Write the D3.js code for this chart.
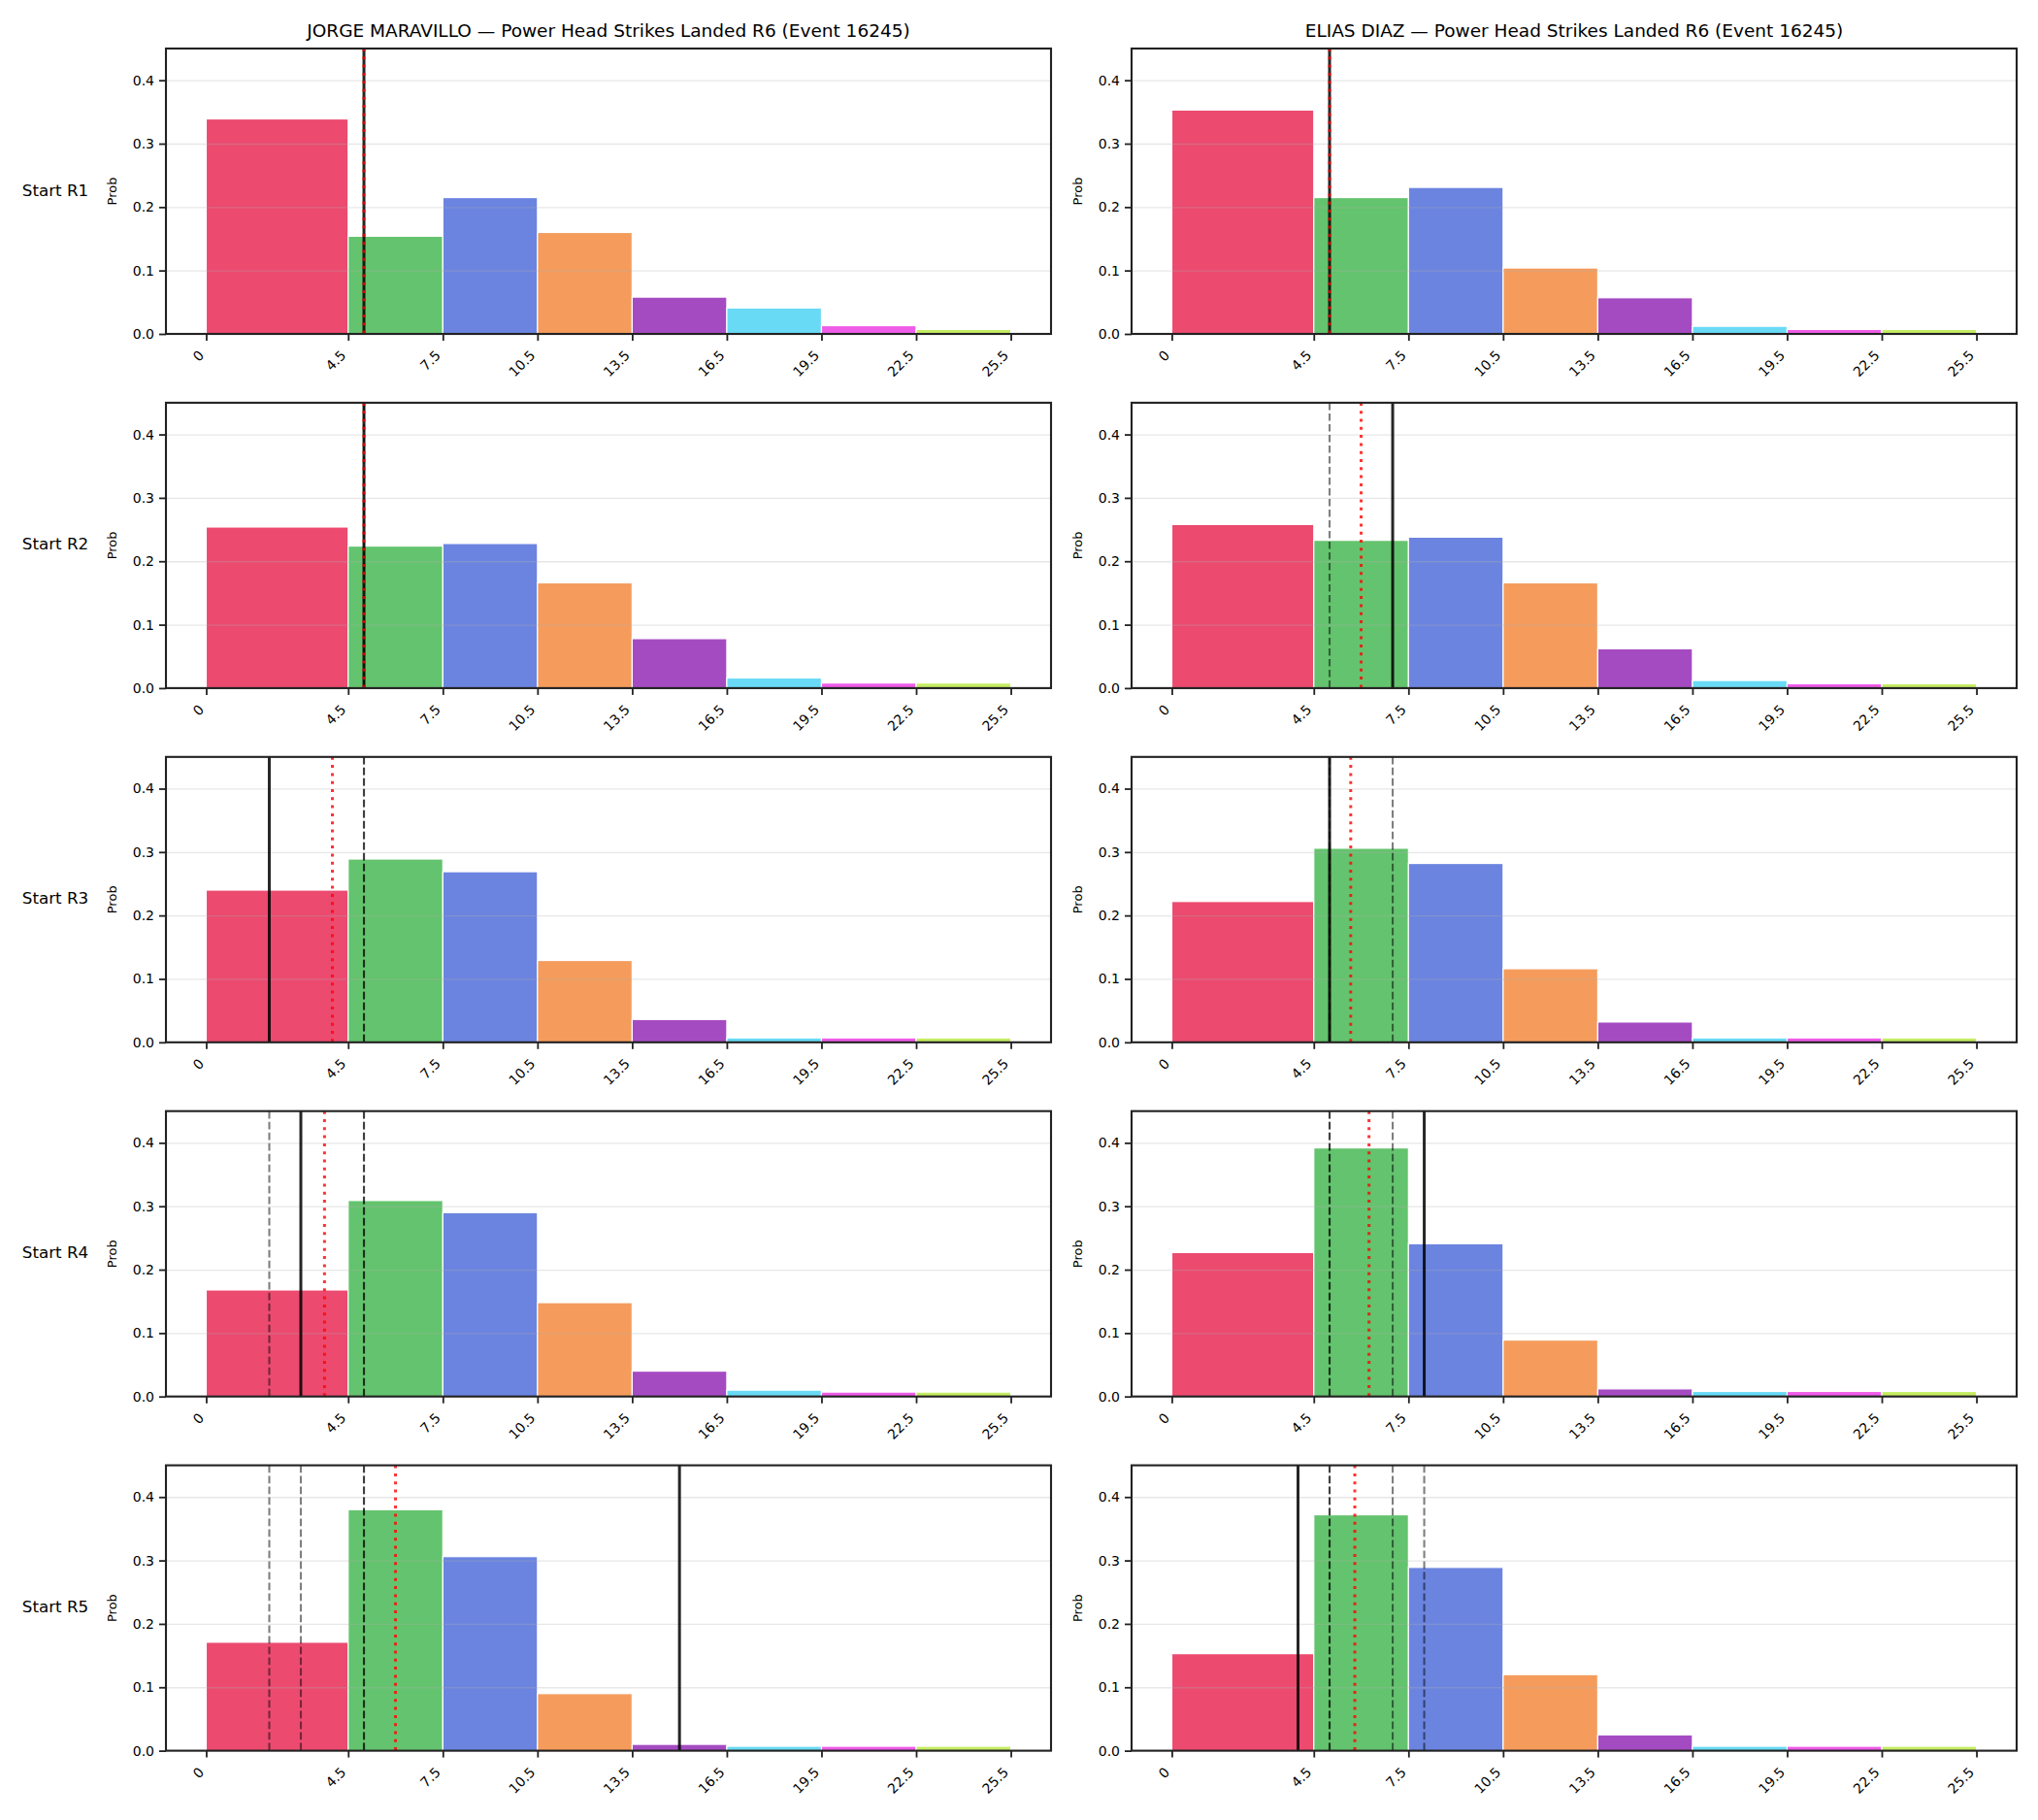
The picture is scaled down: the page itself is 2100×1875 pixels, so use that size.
<!DOCTYPE html>
<html>
<head>
<meta charset="utf-8">
<script src="https://cdn.jsdelivr.net/npm/d3@7"></script>
<style>
  body { margin: 0; background: #fff; }
  svg text { font-family: "DejaVu Sans", sans-serif; }
</style>
</head>
<body>
<div id="chart"></div>
<script>
'use strict'

// ---------------- data ----------------
const fighters = ["JORGE MARAVILLO", "ELIAS DIAZ"]
const eventLabel = "Power Head Strikes Landed R6 (Event 16245)"
const startRounds = ["Start R1", "Start R2", "Start R3", "Start R4", "Start R5"]

const binEdges = [0, 4.5, 7.5, 10.5, 13.5, 16.5, 19.5, 22.5, 25.5]
const xTickLabels = ["0", "4.5", "7.5", "10.5", "13.5", "16.5", "19.5", "22.5", "25.5"]
const yTicks = [0, 0.1, 0.2, 0.3, 0.4]
const binColors = ["#EC4A6F", "#64C36E", "#6B84DF", "#F59C5C", "#A54BC2", "#69DAF5", "#EF5CE8", "#C5EC62"]

// probability per bin, one row per start round
const jorgeProbs = [
    [0.339, 0.154, 0.215, 0.160, 0.058, 0.041, 0.013, 0.007],
    [0.254, 0.224, 0.228, 0.166, 0.078, 0.016, 0.008, 0.008],
    [0.240, 0.289, 0.269, 0.129, 0.036, 0.007, 0.007, 0.007],
    [0.168, 0.309, 0.290, 0.148, 0.040, 0.010, 0.007, 0.007],
    [0.171, 0.380, 0.306, 0.090, 0.010, 0.007, 0.007, 0.007]
]
const eliasProbs = [
    [0.353, 0.215, 0.231, 0.104, 0.057, 0.012, 0.007, 0.007],
    [0.258, 0.233, 0.238, 0.166, 0.062, 0.012, 0.007, 0.007],
    [0.222, 0.306, 0.282, 0.116, 0.032, 0.007, 0.007, 0.007],
    [0.227, 0.392, 0.241, 0.089, 0.012, 0.008, 0.008, 0.008],
    [0.153, 0.372, 0.289, 0.120, 0.025, 0.007, 0.007, 0.007]
]

// landed value per round (solid line), earlier rounds drawn dashed
const jorgeActual = [5, 5, 2, 3, 15]
const eliasActual = [5, 7, 5, 8, 4]
// running average (red dotted)
const jorgeAvg = [5, 5, 4, 3.75, 6]
const eliasAvg = [5, 6, 5.67, 6.25, 5.8]

////////////////////////////////////
//////////// svg setup /////////////
////////////////////////////////////
const svgWidth = 2100
const svgHeight = 1875

const colX = [171, 1166]
const panelW = 912
const panelH = 294
const rowTop = r => 50 + r * 364.9

const svg = d3.select("#chart")
    .append("svg")
    .attr("width", svgWidth)
    .attr("height", svgHeight)
    .attr("viewBox", `0 0 ${svgWidth} ${svgHeight}`)

svg.append("rect").attr("width", svgWidth).attr("height", svgHeight).attr("fill", "#fff")

const panels = [
    { name: fighters[0], probs: jorgeProbs, actual: jorgeActual, avg: jorgeAvg },
    { name: fighters[1], probs: eliasProbs, actual: eliasActual, avg: eliasAvg }
]

panels.forEach((p, c) => {
    p.probs.forEach((row, r) => {
        const g = svg.append("g")
            .attr("transform", `translate(${colX[c]},${rowTop(r)})`)

        const x = d3.scaleLinear().domain([-1.275, 26.775]).range([0, panelW])
        const y = d3.scaleLinear().domain([0, 0.45]).range([panelH, 0])

        // bars
        g.selectAll("rect.bar")
            .data(row)
            .join("rect")
            .attr("class", "bar")
            .attr("x", (d, i) => x(binEdges[i]))
            .attr("width", (d, i) => x(binEdges[i + 1]) - x(binEdges[i]))
            .attr("y", d => y(d))
            .attr("height", d => y(0) - y(d))
            .attr("fill", (d, i) => binColors[i])
            .attr("stroke", "#fff")
            .attr("stroke-width", 1.2)

        // grid (drawn above the bars like matplotlib's default)
        g.append("g")
            .call(d3.axisLeft(y).tickValues(yTicks).tickSize(-panelW).tickFormat(""))
            .call(a => a.select(".domain").remove())
            .selectAll("line")
            .attr("stroke", "#b0b0b0")
            .attr("stroke-opacity", 0.3)
            .attr("stroke-width", 1.3)

        // earlier rounds, dashed
        p.actual.slice(0, r).forEach(v => {
            g.append("line")
                .attr("x1", x(v)).attr("x2", x(v))
                .attr("y1", 0).attr("y2", panelH)
                .attr("stroke", "#000")
                .attr("stroke-opacity", 0.5)
                .attr("stroke-width", 2.1)
                .attr("stroke-dasharray", "7.7 3.3")
        })

        // this round
        g.append("line")
            .attr("x1", x(p.actual[r])).attr("x2", x(p.actual[r]))
            .attr("y1", 0).attr("y2", panelH)
            .attr("stroke", "#000")
            .attr("stroke-opacity", 0.85)
            .attr("stroke-width", 3)

        // running average
        g.append("line")
            .attr("x1", x(p.avg[r])).attr("x2", x(p.avg[r]))
            .attr("y1", 0).attr("y2", panelH)
            .attr("stroke", "#ff0000")
            .attr("stroke-opacity", 0.8)
            .attr("stroke-width", 3)
            .attr("stroke-dasharray", "3 5.3")

        // y axis
        const yAxis = g.append("g")
            .call(d3.axisLeft(y).tickValues(yTicks).tickFormat(d3.format(".1f")).tickSize(7).tickPadding(5))
        yAxis.select(".domain").remove()
        yAxis.selectAll("line").attr("stroke", "#222").attr("stroke-width", 1.8)
        yAxis.selectAll("text").attr("font-size", "14px").attr("fill", "#000")

        // x axis
        const xAxis = g.append("g")
            .attr("transform", `translate(0,${panelH})`)
            .call(d3.axisBottom(x).tickValues(binEdges).tickFormat((d, i) => xTickLabels[i]).tickSize(7))
        xAxis.select(".domain").remove()
        xAxis.selectAll("line").attr("stroke", "#222").attr("stroke-width", 1.8)
        xAxis.selectAll("text")
            .attr("font-size", "14px")
            .attr("fill", "#000")
            .attr("x", 0).attr("y", 0).attr("dy", 0)
            .attr("text-anchor", "end")
            .attr("transform", "translate(-2,23) rotate(-45)")

        // spines
        g.append("rect")
            .attr("width", panelW).attr("height", panelH)
            .attr("fill", "none")
            .attr("stroke", "#222")
            .attr("stroke-width", 2.1)

        // y label
        g.append("text")
            .attr("transform", `translate(-55,${panelH / 2}) rotate(-90)`)
            .attr("text-anchor", "middle")
            .attr("dominant-baseline", "middle")
            .attr("font-size", "13px")
            .text("Prob")

        if (r === 0) {
            g.append("text")
                .attr("x", panelW / 2)
                .attr("y", -12.5)
                .attr("text-anchor", "middle")
                .attr("font-size", "18.5px")
                .text(`${p.name} \u2014 ${eventLabel}`)
        }

        if (c === 0) {
            svg.append("text")
                .attr("x", 57)
                .attr("y", rowTop(r) + panelH / 2)
                .attr("text-anchor", "middle")
                .attr("dominant-baseline", "middle")
                .attr("font-size", "16.7px")
                .text(startRounds[r])
        }
    })
})
</script>
</body>
</html>
